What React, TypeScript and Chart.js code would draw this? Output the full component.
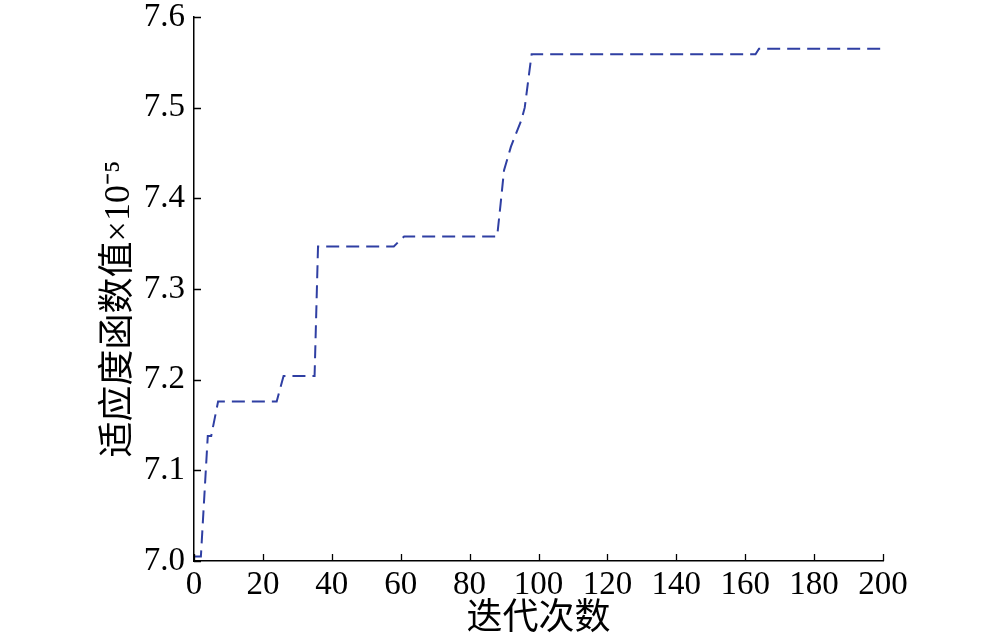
import React, { useEffect, useRef } from "react";
import { Chart, registerables } from "chart.js";

Chart.register(...registerables);

const iterations = [0, 2, 4, 5, 7, 24, 26, 35, 36, 58, 61, 88, 89, 90, 92, 95, 96, 98, 163, 164, 200];
const fitness = [7.005, 7.005, 7.138, 7.138, 7.176, 7.176, 7.204, 7.204, 7.347, 7.347, 7.358, 7.358, 7.394, 7.431, 7.457, 7.486, 7.5, 7.559, 7.559, 7.565, 7.565];

const xTicks = [0, 20, 40, 60, 80, 100, 120, 140, 160, 180, 200];
const yTicks = [7.0, 7.1, 7.2, 7.3, 7.4, 7.5, 7.6];

const xTitle = "迭代次数";
const yTitle = "适应度函数值×10⁻⁵";

const FONT = "'Liberation Serif', 'Noto Sans CJK SC', serif";

const inwardTicks = {
  id: "inwardTicks",
  afterDraw(chart: any) {
    const { ctx, chartArea, scales } = chart;
    ctx.save();
    ctx.strokeStyle = "#000";
    ctx.lineWidth = 1.3;
    ctx.beginPath();
    for (const v of xTicks) {
      const x = Math.round(scales.x.getPixelForValue(v)) + 0.5;
      ctx.moveTo(x, chartArea.bottom);
      ctx.lineTo(x, chartArea.bottom - 7);
    }
    for (const v of yTicks) {
      const y = Math.round(scales.y.getPixelForValue(v)) + 0.5;
      ctx.moveTo(chartArea.left, y);
      ctx.lineTo(chartArea.left + 7, y);
    }
    ctx.stroke();
    // axis titles
    ctx.fillStyle = "#000";
    ctx.font = `36px ${FONT}`;
    ctx.textAlign = "center";
    ctx.textBaseline = "middle";
    ctx.fillText(xTitle, (chartArea.left + chartArea.right) / 2, 620);
    ctx.translate(120, chartArea.top + 292);
    ctx.rotate(-Math.PI / 2);
    ctx.fillText(yTitle, 0, 0);
    ctx.restore();
  },
};

export default function App() {
  const ref = useRef<HTMLCanvasElement>(null);
  useEffect(() => {
    if (!ref.current) return;
    const chart = new Chart(ref.current, {
      type: "line",
      data: {
        datasets: [
          {
            data: iterations.map((x, i) => ({ x, y: fitness[i] })),
            borderColor: "#2f3fa3",
            borderWidth: 2,
            borderDash: [13, 7],
            pointRadius: 0,
            fill: false,
            tension: 0,
          },
        ],
      },
      options: {
        animation: false,
        responsive: false,
        layout: { padding: { left: 100, right: 117, top: 17, bottom: 0 } },
        plugins: { legend: { display: false }, tooltip: { enabled: false } },
        scales: {
          x: {
            type: "linear",
            min: 0,
            max: 200,
            afterBuildTicks: (s: any) => {
              s.ticks = xTicks.map((v) => ({ value: v }));
            },
            afterFit: (s: any) => {
              s.height = 83;
              s.paddingLeft = 0;
              s.paddingRight = 0;
            },
            grid: { display: false, drawTicks: false },
            border: { display: true, color: "#000", width: 1.5 },
            ticks: {
              color: "#000",
              padding: 5,
              maxRotation: 0,
              autoSkip: false,
              font: { family: FONT, size: 33 },
            },
          },
          y: {
            type: "linear",
            min: 7.0,
            max: 7.6,
            afterBuildTicks: (s: any) => {
              s.ticks = yTicks.map((v) => ({ value: v }));
            },
            afterFit: (s: any) => {
              s.width = 94;
              s.paddingTop = 0;
              s.paddingBottom = 0;
            },
            grid: { display: false, drawTicks: false },
            border: { display: true, color: "#000", width: 1.5 },
            ticks: {
              color: "#000",
              padding: 9,
              autoSkip: false,
              font: { family: FONT, size: 33 },
              callback: (v: any) => Number(v).toFixed(1),
            },
          },
        },
      },
      plugins: [inwardTicks],
    });
    return () => chart.destroy();
  }, []);
  return (
    <div style={{ position: "absolute", left: 0, top: 0, width: 1000, height: 644, background: "#fff" }}>
      <canvas ref={ref} width={1000} height={644} />
    </div>
  );
}
